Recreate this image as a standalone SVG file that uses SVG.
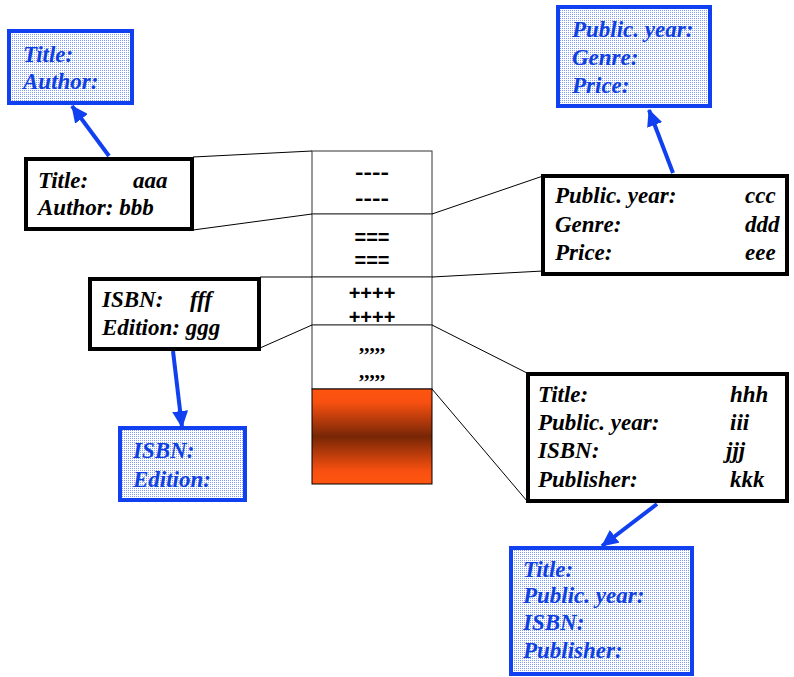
<svg xmlns="http://www.w3.org/2000/svg" width="794" height="677" viewBox="0 0 794 677">
  <defs>
    <pattern id="dots" width="2" height="2" patternUnits="userSpaceOnUse">
      <rect width="2" height="2" fill="#ffffff"/>
      <rect width="1" height="1" fill="#7f9cf0"/>
    </pattern>
    <linearGradient id="rust" x1="0" y1="0" x2="0" y2="1">
      <stop offset="0" stop-color="#ff5510"/>
      <stop offset="0.14" stop-color="#f85010"/>
      <stop offset="0.5" stop-color="#772606"/>
      <stop offset="0.86" stop-color="#f85010"/>
      <stop offset="1" stop-color="#ff5510"/>
    </linearGradient>
    <marker id="head" markerUnits="userSpaceOnUse" markerWidth="18" markerHeight="16" refX="16" refY="8" orient="auto">
      <path d="M0,0 L17,8 L0,16 z" fill="#1040f0"/>
    </marker>
  </defs>
  <style>
    .box { fill: #ffffff; stroke: #000000; stroke-width: 4; }
    .tmpl { fill: url(#dots); stroke: #1040f0; stroke-width: 4; }
    .t { font-family: "Liberation Serif", "Times New Roman", serif; font-weight: bold; font-style: italic; font-size: 23px; fill: #000000; }
    .tb { font-family: "Liberation Serif", "Times New Roman", serif; font-weight: bold; font-style: italic; font-size: 23px; fill: #1040e0; }
    .cell { fill: #ffffff; stroke: #333333; stroke-width: 1; }
    .sym { font-family: "Liberation Sans", Arial, sans-serif; font-weight: bold; font-size: 20px; fill: #000000; text-anchor: middle; }
    .sym2 { font-family: "Liberation Serif", "Times New Roman", serif; font-weight: bold; font-size: 21px; fill: #000000; text-anchor: middle; }
    .link { stroke: #000000; stroke-width: 1; fill: none; }
    .arrow { stroke: #1040f0; stroke-width: 4; fill: none; marker-end: url(#head); }
  </style>

  <!-- record column -->
  <g id="record">
    <rect class="cell" x="312" y="151" width="120" height="63"/>
    <rect class="cell" x="312" y="214" width="120" height="63"/>
    <rect class="cell" x="312" y="277" width="120" height="48"/>
    <rect class="cell" x="312" y="325" width="120" height="64"/>
    <rect x="312" y="389" width="120" height="95" fill="url(#rust)" stroke="#000000" stroke-width="1"/>
    <text class="sym" x="372" y="179" textLength="34" lengthAdjust="spacingAndGlyphs">----</text>
    <text class="sym" x="372" y="205" textLength="34" lengthAdjust="spacingAndGlyphs">----</text>
    <text class="sym" x="372" y="244">===</text>
    <text class="sym" x="372" y="267">===</text>
    <text class="sym" x="372" y="300">++++</text>
    <text class="sym" x="372" y="324">++++</text>
    <text class="sym2" x="372" y="351">,,,,,</text>
    <text class="sym2" x="372" y="378">,,,,,</text>
  </g>

  <!-- connectors -->
  <g id="connectors">
    <line class="link" x1="193" y1="157" x2="312" y2="151"/>
    <line class="link" x1="193" y1="230" x2="312" y2="214"/>
    <line class="link" x1="432" y1="214" x2="543" y2="176"/>
    <line class="link" x1="432" y1="277" x2="543" y2="271"/>
    <line class="link" x1="260" y1="277" x2="312" y2="277"/>
    <line class="link" x1="260" y1="348" x2="312" y2="325"/>
    <line class="link" x1="432" y1="325" x2="527" y2="373"/>
    <line class="link" x1="432" y1="389" x2="527" y2="501"/>
    <line class="arrow" x1="109" y1="156" x2="72" y2="106"/>
    <line class="arrow" x1="673" y1="173" x2="649" y2="110"/>
    <line class="arrow" x1="173" y1="351" x2="182" y2="427"/>
    <line class="arrow" x1="657" y1="504" x2="602" y2="546"/>
  </g>

  <!-- Title / Author -->
  <g id="title-author">
    <rect class="box" x="26" y="159" width="166" height="70"/>
    <text class="t" x="38" y="188">Title:</text>
    <text class="t" x="133" y="188">aaa</text>
    <text class="t" x="38" y="215">Author: bbb</text>
  </g>
  <g id="title-author-template">
    <rect class="tmpl" x="9" y="31" width="123" height="72"/>
    <text class="tb" x="23" y="62">Title:</text>
    <text class="tb" x="23" y="89">Author:</text>
  </g>

  <!-- Public. year / Genre / Price -->
  <g id="year-genre-price">
    <rect class="box" x="543" y="176" width="244" height="98"/>
    <text class="t" x="555" y="203">Public. year:</text>
    <text class="t" x="745" y="203">ccc</text>
    <text class="t" x="555" y="232">Genre:</text>
    <text class="t" x="745" y="232">ddd</text>
    <text class="t" x="555" y="260">Price:</text>
    <text class="t" x="745" y="260">eee</text>
  </g>
  <g id="year-genre-price-template">
    <rect class="tmpl" x="558" y="7" width="152" height="99"/>
    <text class="tb" x="572" y="37">Public. year:</text>
    <text class="tb" x="572" y="65">Genre:</text>
    <text class="tb" x="572" y="93">Price:</text>
  </g>

  <!-- ISBN / Edition -->
  <g id="isbn-edition">
    <rect class="box" x="90" y="279" width="169" height="70"/>
    <text class="t" x="102" y="307">ISBN:</text>
    <text class="t" x="190" y="307">fff</text>
    <text class="t" x="102" y="335">Edition: ggg</text>
  </g>
  <g id="isbn-edition-template">
    <rect class="tmpl" x="120" y="428" width="125" height="72"/>
    <text class="tb" x="133" y="458">ISBN:</text>
    <text class="tb" x="133" y="487">Edition:</text>
  </g>

  <!-- Title / Public. year / ISBN / Publisher -->
  <g id="publisher-record">
    <rect class="box" x="528" y="374" width="259" height="127"/>
    <text class="t" x="538" y="402">Title:</text>
    <text class="t" x="730" y="402">hhh</text>
    <text class="t" x="538" y="430">Public. year:</text>
    <text class="t" x="730" y="430">iii</text>
    <text class="t" x="538" y="458">ISBN:</text>
    <text class="t" x="726" y="458">jjj</text>
    <text class="t" x="538" y="487">Publisher:</text>
    <text class="t" x="730" y="487">kkk</text>
  </g>
  <g id="publisher-template">
    <rect class="tmpl" x="511" y="548" width="181" height="126"/>
    <text class="tb" x="523" y="577">Title:</text>
    <text class="tb" x="523" y="603">Public. year:</text>
    <text class="tb" x="523" y="630">ISBN:</text>
    <text class="tb" x="523" y="658">Publisher:</text>
  </g>
</svg>
